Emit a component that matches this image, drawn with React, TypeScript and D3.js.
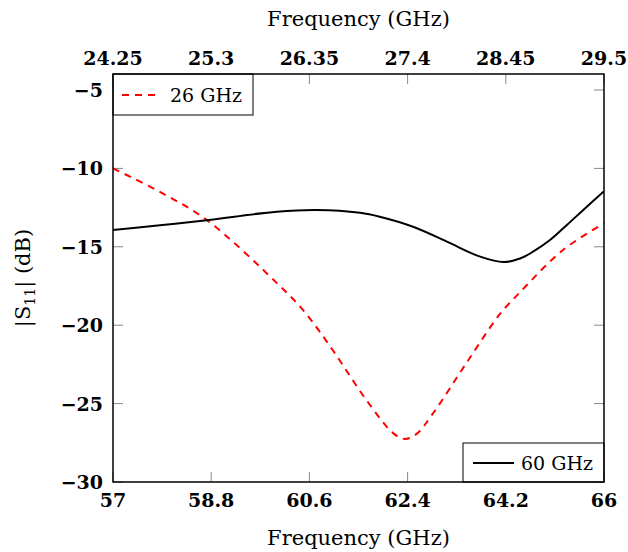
import React from "react";
import * as d3 from "d3";

const freq60 = [57, 57.86, 58.72, 60.0, 60.73, 61.53, 61.89, 62.5, 63.12, 63.73, 64.16, 64.46, 64.7, 65.01, 65.32, 65.62, 66];
const s60 = [-13.93, -13.63, -13.3, -12.76, -12.65, -12.83, -13.08, -13.72, -14.67, -15.63, -15.97, -15.75, -15.31, -14.57, -13.61, -12.65, -11.45];

const freq26 = [57, 57.86, 58.72, 60.0, 60.5, 61.03, 61.65, 62.14, 62.35, 62.56, 62.87, 63.48, 64.09, 64.46, 65.25, 66];
const s26 = [-10.0, -11.5, -13.3, -17.3, -19.1, -21.6, -24.8, -26.9, -27.25, -26.95, -25.6, -22.4, -19.3, -17.9, -15.2, -13.5];

const bottomTicks = [57, 58.8, 60.6, 62.4, 64.2, 66];
const topTicks = [24.25, 25.3, 26.35, 27.4, 28.45, 29.5];
const yTicks = [-30, -25, -20, -15, -10, -5];

const W = 628, H = 552;
const L = 113, R = 604, T = 74, B = 482;

export default function App() {
  const x = d3.scaleLinear().domain([57, 66]).range([L, R]);
  const xTop = d3.scaleLinear().domain([24.25, 29.5]).range([L, R]);
  const y = d3.scaleLinear().domain([-30, -3.98]).range([B, T]);

  const line = d3.line<[number, number]>().x(d => x(d[0])).y(d => y(d[1])).curve(d3.curveCatmullRom.alpha(0.5));
  const p60 = line(freq60.map((f, i) => [f, s60[i]] as [number, number])) || "";
  const p26 = line(freq26.map((f, i) => [f, s26[i]] as [number, number])) || "";

  const serif = "'DejaVu Serif', serif";
  const tickColor = "#888";
  return (
    <svg width={W} height={H} style={{ position: "absolute", left: 0, top: 0, background: "#fff" }} fontFamily={serif}>
      <rect x={0} y={0} width={W} height={H} fill="#fff" />
      {bottomTicks.map(t => (
        <line key={"b" + t} x1={x(t)} x2={x(t)} y1={B} y2={B - 10} stroke={tickColor} strokeWidth={1} />
      ))}
      {topTicks.map(t => (
        <line key={"t" + t} x1={xTop(t)} x2={xTop(t)} y1={T} y2={T + 10} stroke={tickColor} strokeWidth={1} />
      ))}
      {yTicks.map(t => (
        <g key={"y" + t}>
          <line x1={L} x2={L + 10} y1={y(t)} y2={y(t)} stroke={tickColor} strokeWidth={1} />
          <line x1={R} x2={R - 10} y1={y(t)} y2={y(t)} stroke={tickColor} strokeWidth={1} />
        </g>
      ))}
      <defs>
        <clipPath id="clip"><rect x={L} y={T} width={R - L} height={B - T} /></clipPath>
      </defs>
      <g clipPath="url(#clip)">
        <path d={p26} fill="none" stroke="#ff0000" strokeWidth={2} strokeDasharray="7 6" />
        <path d={p60} fill="none" stroke="#000" strokeWidth={2} />
      </g>
      <rect x={L} y={T} width={140} height={41} fill="#fff" stroke="#000" strokeWidth={1} />
      <line x1={122} x2={160} y1={95} y2={95} stroke="#ff0000" strokeWidth={2} strokeDasharray="7 6" />
      <text x={170} y={102} fontSize={19}>26 GHz</text>
      <rect x={463} y={443} width={R - 463} height={B - 443} fill="#fff" stroke="#000" strokeWidth={1} />
      <line x1={473} x2={514} y1={463} y2={463} stroke="#000" strokeWidth={2} />
      <text x={521} y={470} fontSize={19}>60 GHz</text>
      <rect x={L} y={T} width={R - L} height={B - T} fill="none" stroke="#000" strokeWidth={1.5} />
      {bottomTicks.map(t => (
        <text key={"bl" + t} x={x(t)} y={507} fontSize={19} fontWeight="bold" textAnchor="middle">{String(t)}</text>
      ))}
      {topTicks.map(t => (
        <text key={"tl" + t} x={xTop(t)} y={65} fontSize={19} fontWeight="bold" textAnchor="middle">{String(t)}</text>
      ))}
      {yTicks.map(t => (
        <text key={"yl" + t} x={103} y={y(t) + 7} fontSize={19} fontWeight="bold" textAnchor="end">{"\u2212" + Math.abs(t)}</text>
      ))}
      <text x={(L + R) / 2} y={545} fontSize={21} textAnchor="middle">Frequency (GHz)</text>
      <text x={(L + R) / 2} y={26} fontSize={21} textAnchor="middle">Frequency (GHz)</text>
      <text transform={`translate(30, ${(T + B) / 2}) rotate(-90)`} fontSize={21} textAnchor="middle">
        |S<tspan fontSize={14} dy={5}>11</tspan><tspan dy={-5}>| (dB)</tspan>
      </text>
    </svg>
  );
}
